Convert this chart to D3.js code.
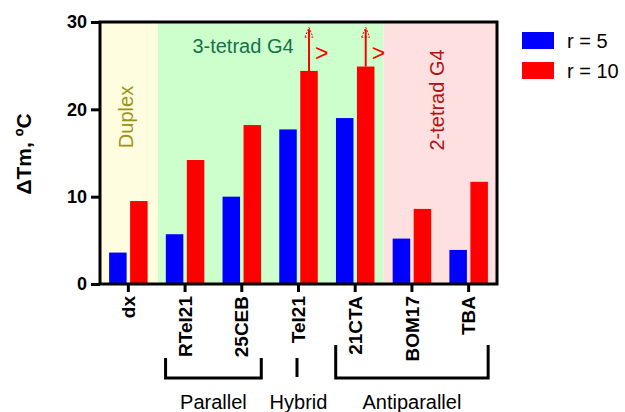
<!DOCTYPE html>
<html>
<head>
<meta charset="utf-8">
<script src="https://cdn.jsdelivr.net/npm/d3@7"></script>
<style>
  body { margin: 0; background: #fff; }
  text { font-family: Arial, "Liberation Sans", sans-serif; }
</style>
</head>
<body>
<div id="chart"></div>
<script>
// ---- data ----
var categories = ['dx', 'RTel21', '25CEB', 'Tel21', '21CTA', 'BOM17', 'TBA'],
    seriesNames = ['r = 5', 'r = 10'],
    seriesColors = ['#0000ff', '#ff0000'],
    r5 = [3.6, 5.7, 10.0, 17.7, 19.0, 5.2, 3.9],
    r10 = [9.5, 14.2, 18.2, 24.4, 24.9, 8.6, 11.7],
    lowerBound = ['Tel21', '21CTA'],   // r = 10 values are only lower limits
    yTicks = [0, 10, 20, 30];

// shaded regions (first / last category covered)
var regions = [
  {from: 'dx', to: 'dx', fill: '#fffde0'},
  {from: 'RTel21', to: '21CTA', fill: '#ccffcc'},
  {from: 'BOM17', to: 'TBA', fill: '#ffe0e0'}
];

// topology brackets under the axis
var groups = [
  {label: 'Parallel', from: 'RTel21', to: '25CEB'},
  {label: 'Hybrid', from: 'Tel21', to: 'Tel21'},
  {label: 'Antiparallel', from: '21CTA', to: 'TBA'}
];

// note: "top" is taken by window.top, so plot edges get their own names
var W = 625, H = 412,
    plotL = 100, plotR = 497, plotT = 22, plotB = 284;

var svg = d3.select('#chart').append('svg')
    .attr('width', W)
    .attr('height', H);

var x = d3.scaleBand().domain(categories).range([plotL, plotR]).padding(0),
    y = d3.scaleLinear().domain([0, 30]).range([plotB, plotT]);

var barW = 17.5, gap = 3.5;

function regionEdges(d, i) {
  var x0 = i === 0 ? plotL : x(d.from) + (i === 1 ? 1.3 : 0),
      x1 = i === regions.length - 1 ? plotR : x(d.to) + x.bandwidth() + (i === 0 ? 1.3 : 0);
  return [x0, x1];
}

// backgrounds
svg.selectAll('rect.region')
  .data(regions)
  .enter().append('rect')
    .attr('class', 'region')
    .attr('x', function(d, i) { return regionEdges(d, i)[0]; })
    .attr('width', function(d, i) { var e = regionEdges(d, i); return e[1] - e[0]; })
    .attr('y', plotT)
    .attr('height', plotB - plotT)
    .style('fill', function(d) { return d.fill; });

// bars
var series = [r5, r10];
series.forEach(function(vals, s) {
  svg.selectAll('rect.s' + s)
    .data(vals)
    .enter().append('rect')
      .attr('class', 's' + s)
      .attr('x', function(d, i) {
        var c = x(categories[i]) + x.bandwidth() / 2;
        return s === 0 ? c - gap / 2 - barW : c + gap / 2;
      })
      .attr('width', barW)
      .attr('y', function(d) { return y(d); })
      .attr('height', function(d) { return y(0) - y(d); })
      .style('fill', seriesColors[s]);
});

// lower-limit arrows
lowerBound.forEach(function(cat) {
  var i = categories.indexOf(cat),
      cx = x(cat) + x.bandwidth() / 2 + gap / 2 + barW / 2,
      tip = y(29.4);
  svg.append('line')
    .attr('x1', cx).attr('x2', cx)
    .attr('y1', y(r10[i])).attr('y2', tip + 2)
    .style('stroke', '#ff0000')
    .style('stroke-width', 2);
  svg.append('path')
    .attr('d', 'M' + (cx - 4) + ',' + (tip + 10) + 'L' + cx + ',' + tip + 'L' + (cx + 4) + ',' + (tip + 10) + 'Z')
    .style('fill', 'none')
    .style('stroke', '#ff0000')
    .style('stroke-width', 1)
    .style('stroke-dasharray', '2,1.5');
  svg.append('text')
    .attr('x', cx + 6)
    .attr('y', y(25.5))
    .style('fill', '#ff0000')
    .style('font-size', '23px')
    .text('>');
});

// frame
svg.append('rect')
  .attr('x', plotL).attr('y', plotT)
  .attr('width', plotR - plotL).attr('height', plotB - plotT)
  .style('fill', 'none')
  .style('stroke', '#000')
  .style('stroke-width', 3);

// y axis
var yAxis = svg.append('g')
    .attr('transform', 'translate(' + plotL + ',0)')
    .call(d3.axisLeft(y).tickValues(yTicks).tickSize(9).tickPadding(4));
yAxis.select('.domain').remove();
yAxis.selectAll('line').style('stroke', '#000').style('stroke-width', 3);
yAxis.selectAll('text')
  .style('font-size', '18px')
  .style('font-weight', 'bold')
  .style('fill', '#000')
  .style('font-family', 'Arial, "Liberation Sans", sans-serif');

// x axis
var xAxis = svg.append('g')
    .attr('transform', 'translate(0,' + plotB + ')')
    .call(d3.axisBottom(x).tickSize(8).tickPadding(2));
xAxis.select('.domain').remove();
xAxis.selectAll('line').style('stroke', '#000').style('stroke-width', 3);
xAxis.selectAll('text')
  .attr('transform', 'rotate(-90)')
  .attr('x', -12)
  .attr('y', 0)
  .attr('dy', '0.35em')
  .style('text-anchor', 'end')
  .style('font-size', '19px')
  .style('font-weight', 'bold')
  .style('fill', '#000')
  .style('font-family', 'Arial, "Liberation Sans", sans-serif');

// y label
svg.append('text')
  .attr('transform', 'translate(31,154) rotate(-90)')
  .style('text-anchor', 'middle')
  .style('font-size', '21px')
  .style('font-weight', 'bold')
  .text('\u0394Tm, \u00baC');

// region labels
svg.append('text')
  .attr('x', 243).attr('y', 53)
  .style('text-anchor', 'middle')
  .style('font-size', '20px')
  .style('fill', '#14734a')
  .text('3-tetrad G4');
svg.append('text')
  .attr('transform', 'translate(133,117) rotate(-90)')
  .style('text-anchor', 'middle')
  .style('font-size', '20px')
  .style('fill', '#9c9414')
  .text('Duplex');
svg.append('text')
  .attr('transform', 'translate(444,100) rotate(-90)')
  .style('text-anchor', 'middle')
  .style('font-size', '20px')
  .style('fill', '#b01414')
  .text('2-tetrad G4');

// brackets
var bracketTop = {Parallel: 358, Hybrid: 358, Antiparallel: 345},
    bracketY = 378;
groups.forEach(function(g) {
  var x0 = x(g.from) + x.bandwidth() / 2 - 19.5,
      x1 = x(g.to) + x.bandwidth() / 2 + 19.5,
      cx = (x(g.from) + x(g.to) + x.bandwidth()) / 2;
  if (g.from === g.to) {
    svg.append('line')
      .attr('x1', cx - 1.5).attr('x2', cx - 1.5)
      .attr('y1', bracketTop[g.label]).attr('y2', bracketY - 1)
      .style('stroke', '#000').style('stroke-width', 3);
  } else {
    svg.append('path')
      .attr('d', 'M' + x0 + ',' + bracketTop[g.label] + 'V' + bracketY + 'H' + x1 + 'V' + bracketTop[g.label])
      .style('fill', 'none')
      .style('stroke', '#000')
      .style('stroke-width', 3);
  }
  svg.append('text')
    .attr('x', cx)
    .attr('y', 409)
    .style('text-anchor', 'middle')
    .style('font-size', '20px')
    .text(g.label);
});

// legend
var legend = svg.selectAll('g.legend')
  .data(seriesNames)
  .enter().append('g')
    .attr('class', 'legend')
    .attr('transform', function(d, i) { return 'translate(522,' + (32 + i * 30) + ')'; });
legend.append('rect')
  .attr('width', 32).attr('height', 17)
  .style('fill', function(d, i) { return seriesColors[i]; });
legend.append('text')
  .attr('x', 45).attr('y', 16)
  .style('font-size', '20px')
  .text(function(d) { return d; });
</script>
</body>
</html>
